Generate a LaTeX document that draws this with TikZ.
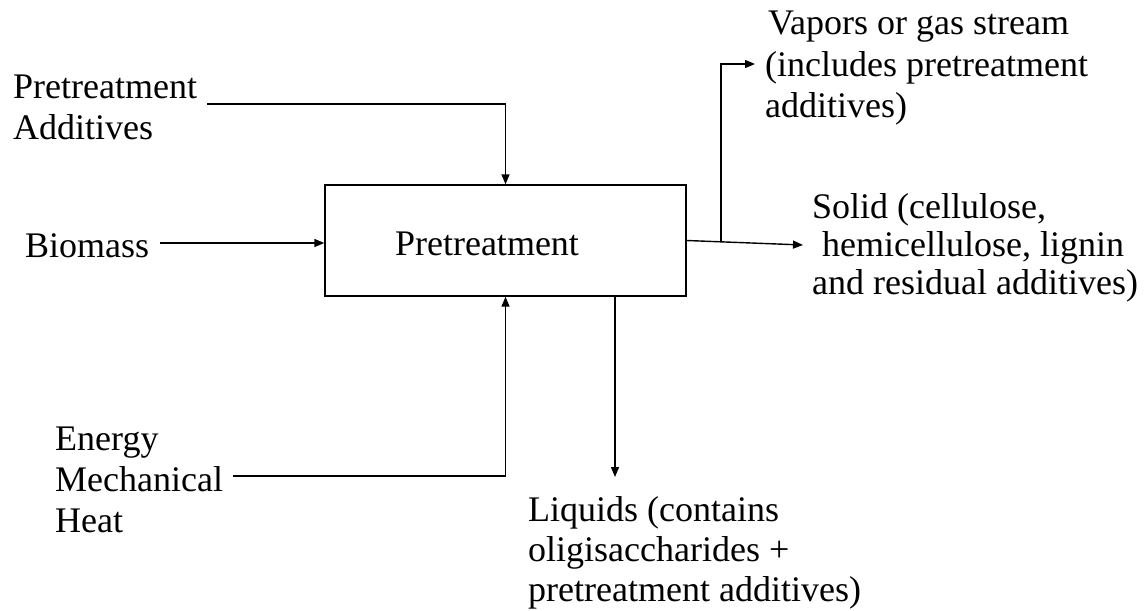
\documentclass[tikz,border=0pt]{standalone}
\usepackage{fontspec}
\setmainfont{Liberation Serif}
\usetikzlibrary{arrows.meta}
\begin{document}
\begin{tikzpicture}[x=1pt,y=-1pt,
  flow/.style={line width=1.4pt,-{Triangle[length=10pt,width=8pt]}},
  lbl/.style={inner sep=0pt,anchor=base west,align=left,
    font=\fontsize{36}{41}\selectfont},
  stage/.style={draw,line width=1.4pt,minimum width=361pt,minimum height=111pt,inner sep=0pt}]
\useasboundingbox[fill=white] (0,0) rectangle (1147,610);

% central process box
\node[stage] (box) at (505.5,240.5) {};
\node[inner sep=0pt,anchor=base,font=\fontsize{36}{41}\selectfont] (boxlbl) at (487,255) {Pretreatment};

% input labels (anchored at the baseline of their last line)
\node[lbl] (pa) at (13,139) {Pretreatment\\Additives};
\node[lbl] (bio) at (25,257) {Biomass};
\node[lbl] (en) at (55,532) {Energy\\Mechanical\\Heat};

% output labels
\node[lbl] (vap) at (765,117) {\hspace*{3pt}Vapors or gas stream\\(includes pretreatment\\additives)};
\node[lbl,font=\fontsize{36}{38}\selectfont] (sol) at (812,294) {Solid (cellulose,\\\hspace*{10pt}hemicellulose, lignin\\and residual additives)};
\node[lbl,font=\fontsize{36}{40}\selectfont] (liq) at (528,601) {Liquids (contains\\oligisaccharides +\\pretreatment additives)};

% connector end points
\coordinate (paStart) at (207,104);
\coordinate (bioStart) at (160,243);
\coordinate (enStart) at (233,476);
\coordinate (liqEnd) at (615,477);
\coordinate (solEnd) at (803,245);
\coordinate (branch) at (721,242);
\coordinate (vapEnd) at (755,64);

% inputs
\draw[flow] (paStart) -| (box.north);
\draw[flow] (bioStart) -- (bioStart -| box.west);
\draw[flow] (enStart) -| (box.south);

% outputs
\draw[flow] (liqEnd |- box.south) -- (liqEnd);
\draw[flow] (box.east) -- (solEnd);
\draw[flow] (branch) |- (vapEnd);
\end{tikzpicture}
\end{document}
